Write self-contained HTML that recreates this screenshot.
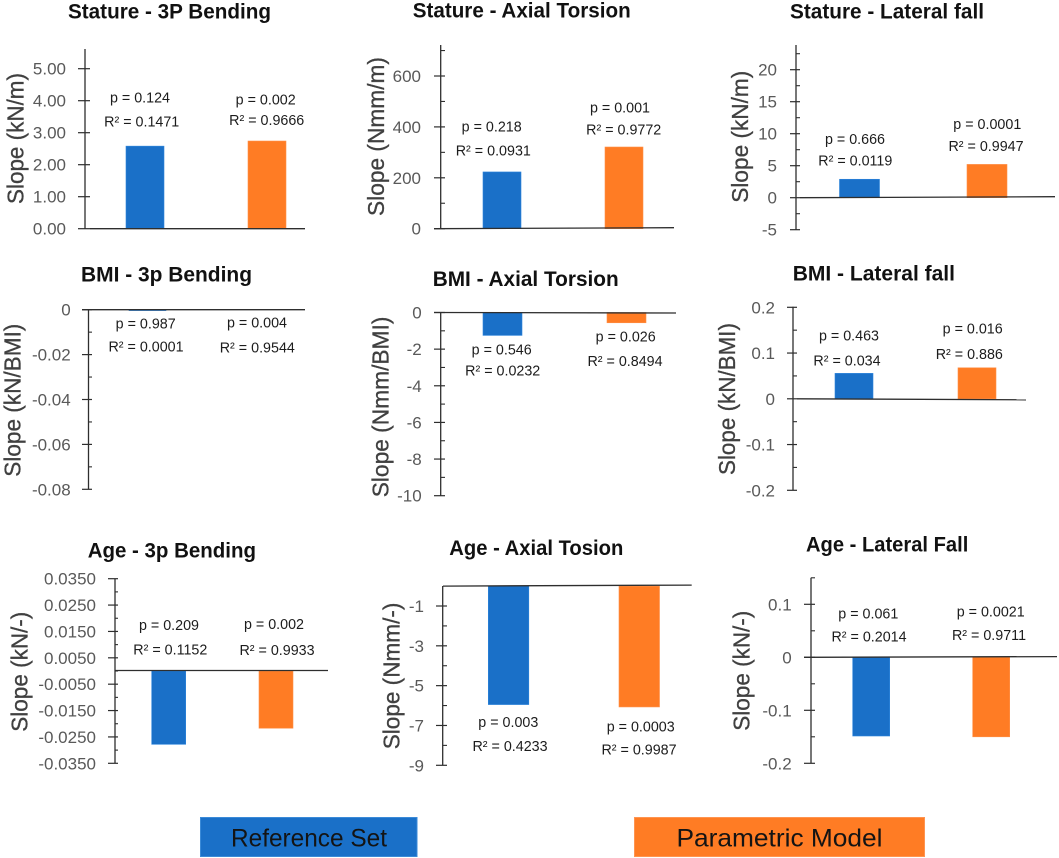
<!DOCTYPE html>
<html lang="en">
<head>
<meta charset="utf-8">
<title>Slope charts by stature, BMI and age</title>
<style>
html,body{margin:0;padding:0;background:#fff;width:1059px;height:858px;overflow:hidden}
svg{display:block;font-family:"Liberation Sans",Arial,sans-serif}
.panel-title{font-size:21px;font-weight:bold;fill:#111;text-anchor:start}
.y-title{font-size:23.5px;fill:#404040;stroke:#404040;stroke-width:.3px;text-anchor:start}
.tick-label{font-size:17px;fill:#595959;text-anchor:end}
.note{font-size:14.3px;fill:#1c1c1c;text-anchor:middle}
.legend-text{font-size:25px;fill:#141414;text-anchor:start}
</style>
</head>
<body>
<svg id="figure" xmlns="http://www.w3.org/2000/svg" width="1059" height="858" viewBox="0 0 1059 858">
  <rect x="200.5" y="817.5" width="216.5" height="39" fill="#1a70c8" stroke="#3a8ad8" stroke-width="1"/>
  <text class="legend-text" x="231" y="846.5" textLength="156" lengthAdjust="spacingAndGlyphs">Reference Set</text>
  <rect x="634.5" y="817.5" width="290" height="39" fill="#ff7c24" stroke="#ff9450" stroke-width="1"/>
  <text class="legend-text" x="676.5" y="846.5" textLength="206" lengthAdjust="spacingAndGlyphs">Parametric Model</text>
</svg>
<script>
const panelTitles = ["Stature - 3P Bending","Stature - Axial Torsion","Stature - Lateral fall","BMI - 3p Bending","BMI - Axial Torsion","BMI - Lateral fall","Age - 3p Bending","Age - Axial Tosion","Age - Lateral Fall"];
const yAxisTitles = ["Slope (kN/m)","Slope (Nmm/m)","Slope (kN/m)","Slope (kN/BMI)","Slope (Nmm/BMI)","Slope (kN/BMI)","Slope (kN/-)","Slope (Nmm/-)","Slope (kN/-)"];
const tickLabels = [
  ["5.00","4.00","3.00","2.00","1.00","0.00"],
  ["600","400","200","0"],
  ["20","15","10","5","0","-5"],
  ["0","-0.02","-0.04","-0.06","-0.08"],
  ["0","-2","-4","-6","-8","-10"],
  ["0.2","0.1","0","-0.1","-0.2"],
  ["0.0350","0.0250","0.0150","0.0050","-0.0050","-0.0150","-0.0250","-0.0350"],
  ["-1","-3","-5","-7","-9"],
  ["0.1","0","-0.1","-0.2"]
];
const minorTickValues = [
  [],
  [700,500,300,100],
  [22.5,17.5,12.5,7.5,2.5,-2.5],
  [-0.01,-0.03,-0.05,-0.07],
  [-1,-3,-5,-7,-9],
  [0.15,0.05,-0.05,-0.15],
  [0.03,0.02,0.01,0,-0.01,-0.02,-0.03],
  [-2,-4,-6,-8],
  [0.15,0.05,-0.05,-0.15]
];
const referenceSlopes = [2.58,223,2.88,-0.0004,-1.25,0.0556,-0.0278,-5.95,-0.1485];
const parametricSlopes = [2.74,321,5.2,0,-0.56,0.0678,-0.0217,-6.07,-0.15];
const referencePValues = ["0.124","0.218","0.666","0.987","0.546","0.463","0.209","0.003","0.061"];
const parametricPValues = ["0.002","0.001","0.0001","0.004","0.026","0.016","0.002","0.0003","0.0021"];
const referenceR2Values = ["0.1471","0.0931","0.0119","0.0001","0.0232","0.034","0.1152","0.4233","0.2014"];
const parametricR2Values = ["0.9666","0.9772","0.9947","0.9544","0.8494","0.886","0.9933","0.9987","0.9711"];

/* Pixel layout of each panel (kept apart from the data arrays above). */
const panelFrames = [
 {axisX:85,top:49,bottom:229,vA:5,yA:68.7,vB:0,yB:228.7,tickL:78,tickR:90,labelR:66,lineX1:90,lineX2:305,tilt:[0,0],bars:[126,248],barW:38,
  title:[68,18.5,203],yTitle:[23.5,204,131],notes:[[140,102.7,141.7,126.7],[265.7,104.3,266.7,125]]},
 {axisX:440.7,top:45,bottom:229,vA:600,yA:76,vB:0,yB:228.7,tickL:434,tickR:445,labelR:421,lineX1:434,lineX2:674,tilt:[0,-1],bars:[483,605],barW:38,
  title:[412.7,17.5,218],yTitle:[384,216,159],notes:[[491.7,131.7,493.3,155.7],[620,112.3,623.7,134.3]]},
 {axisX:796,top:45,bottom:230,vA:20,yA:69.7,vB:-5,yB:229.7,tickL:790,tickR:800,labelR:777,lineX1:800,lineX2:1055,tilt:[0,-1],bars:[839.5,967],barW:40,
  title:[790,18.5,194],yTitle:[748,202.7,132],notes:[[855,144,855.3,165.7],[987.3,129,986,151]]},
 {axisX:88.5,top:309.5,bottom:489.5,vA:0,yA:309.7,vB:-0.08,yB:489.3,tickL:82,tickR:92,labelR:70.7,lineX1:82,lineX2:305,tilt:[0,0],bars:[129,250],barW:37,
  title:[81,281.7,171],yTitle:[20.7,476.7,153],notes:[[145.7,328.3,146,351.7],[257,327.7,257.3,352.7]]},
 {axisX:440.7,top:312,bottom:495.7,vA:0,yA:312.5,vB:-10,yB:495.7,tickL:434,tickR:445,labelR:421.7,lineX1:434,lineX2:676,tilt:[0,0.5],bars:[483,607],barW:39,
  title:[432.7,286,186],yTitle:[388.3,497.3,180.7],notes:[[501.7,354.3,502.7,375.3],[625.7,341.7,625,366]]},
 {axisX:793,top:306.7,bottom:490.5,vA:0.2,yA:307.3,vB:-0.2,yB:490.3,tickL:787,tickR:797,labelR:775,lineX1:797,lineX2:1026,tilt:[0,1],bars:[835,958],barW:38,
  title:[792.7,280.7,162.3],yTitle:[735,475,152],notes:[[849,340.3,847,365.3],[972.7,333.7,969.3,359]]},
 {axisX:115,top:578.7,bottom:763.3,vA:0.035,yA:578.7,vB:-0.035,yB:763.3,tickL:108,tickR:118,labelR:96,lineX1:115,lineX2:328,tilt:[-0.5,-0.5],bars:[151.7,259],barW:34,
  title:[87.7,557.3,168.3],yTitle:[27.7,731.7,120],notes:[[169,630,170.3,654.3],[274,629,277,655]]},
 {axisX:442.7,top:586,bottom:765.5,vA:-1,yA:606,vB:-9,yB:765.3,tickL:436,tickR:447,labelR:424,lineX1:443,lineX2:691.7,tilt:[0,-1],bars:[488.3,619],barW:40.5,
  title:[449.3,555,174],yTitle:[399.3,749.3,146.7],notes:[[508.3,727,510,751],[640.7,731.3,639,754.7]]},
 {axisX:811,top:577.7,bottom:763.5,vA:0.1,yA:604.3,vB:-0.2,yB:763.3,tickL:804,tickR:815,labelR:791.7,lineX1:804,lineX2:1057,tilt:[0,-0.7],bars:[852.7,972.7],barW:37,
  title:[806,551.7,162.3],yTitle:[749.3,730.7,120],notes:[[868.3,618.3,869,641.7],[990.7,616.7,989,640]]}
];

const NS = "http://www.w3.org/2000/svg";
const figure = document.getElementById("figure");
const AXIS = "#2e2e2e";

function make(parent, tag, attrs, text) {
  const el = document.createElementNS(NS, tag);
  for (const k in attrs) el.setAttribute(k, attrs[k]);
  if (text !== undefined) el.textContent = text;
  parent.appendChild(el);
  return el;
}

function makeYScale(f) {
  return function (v) { return f.yA + (v - f.vA) * (f.yB - f.yA) / (f.vB - f.vA); };
}

function drawBar(g, f, y, i, value, fill, stroke, series) {
  const y0 = y(0), yv = y(value);
  const bar = make(g, "rect", {x: f.bars[i], y: Math.min(y0, yv), width: f.barW, height: Math.max(Math.abs(yv - y0), 0.01), fill: fill, stroke: stroke, "stroke-width": 0.6});
  
  
}

function drawNote(g, x, yPos, str, kind) {
  const t = make(g, "text", {class: "note", x: x, y: yPos}, str);
  
  
}

panelFrames.forEach(function (f, p) {
  const y = makeYScale(f);
  const g = make(figure, "g", {});
  
  

  const title = make(g, "text", {class: "panel-title", x: f.title[0], y: f.title[1], textLength: f.title[2], lengthAdjust: "spacingAndGlyphs"}, panelTitles[p]);
  
  

  const yTitle = make(g, "text", {class: "y-title", textLength: f.yTitle[2], lengthAdjust: "spacingAndGlyphs",
    transform: "translate(" + f.yTitle[0] + "," + f.yTitle[1] + ") rotate(-90)"}, yAxisTitles[p]);
  
  

  drawBar(g, f, y, 0, referenceSlopes[p], "#1a70c8", "#2f86dc", "reference-set");
  drawBar(g, f, y, 1, parametricSlopes[p], "#ff7c24", "#ff8f48", "parametric-model");

  const axis = make(g, "line", {x1: f.axisX, x2: f.axisX, y1: f.top, y2: f.bottom, stroke: AXIS, "stroke-width": 1.3});
  
  

  const baseline = make(g, "line", {x1: f.lineX1, x2: f.lineX2, y1: y(0) + f.tilt[0], y2: y(0) + f.tilt[1], stroke: AXIS, "stroke-width": 1.3});
  
  

  tickLabels[p].forEach(function (lab) {
    const v = parseFloat(lab);
    const tick = make(g, "line", {x1: f.tickL, x2: f.tickR, y1: y(v), y2: y(v), stroke: AXIS, "stroke-width": 1.2});
    
    
    const text = make(g, "text", {class: "tick-label", x: f.labelR, y: y(v) + 6}, lab);
    
    
  });

  minorTickValues[p].forEach(function (v) {
    const minor = make(g, "line", {x1: f.axisX, x2: f.tickR, y1: y(v), y2: y(v), stroke: AXIS, "stroke-width": 1.1});
    
    
  });

  const n = f.notes;
  drawNote(g, n[0][0], n[0][1], "p = " + referencePValues[p], "reference-p-value");
  drawNote(g, n[0][2], n[0][3], "R\u00B2 = " + referenceR2Values[p], "reference-r-squared");
  drawNote(g, n[1][0], n[1][1], "p = " + parametricPValues[p], "parametric-p-value");
  drawNote(g, n[1][2], n[1][3], "R\u00B2 = " + parametricR2Values[p], "parametric-r-squared");
});
</script>
</body>
</html>
